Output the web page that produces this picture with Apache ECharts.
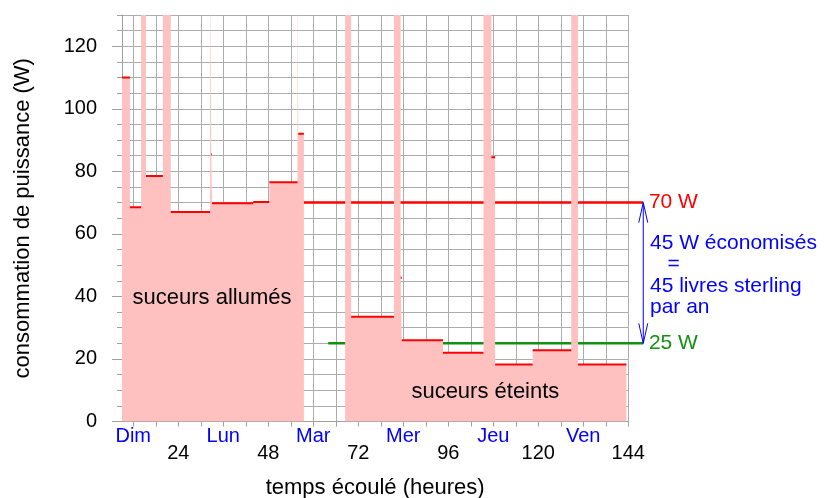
<!DOCTYPE html>
<html>
<head>
<meta charset="utf-8">
<script src="https://cdn.jsdelivr.net/npm/echarts@6/dist/echarts.min.js"></script>
<style>
  html, body { margin: 0; padding: 0; background: #fff; }
  #chart { width: 825px; height: 498px; }
</style>
</head>
<body>
<div id="chart"></div>
<script>
// paliers de consommation : début / fin (heures) et puissance (W)
// 150 = pic qui sort du graphique
const stepStart = [9, 11.1, 14.1, 15.4, 19.9, 22.0, 32.5, 32.8, 33.0, 44.0, 48.3, 55.8, 56.0,
                   68.5, 70.1, 81.5, 83.3, 83.6, 94.6, 105.4, 107.5, 108.5, 118.5, 128.8, 130.6]
const stepEnd   = [11.1, 14.1, 15.4, 19.9, 22.0, 32.5, 32.8, 33.0, 44.0, 48.3, 55.8, 56.0, 57.5,
                   70.1, 81.5, 83.3, 83.6, 94.6, 105.4, 107.5, 108.5, 118.5, 128.8, 130.6, 143.5]
const stepPower = [110, 68.5, 150, 78.5, 150, 67, 150, 85.5, 69.8, 70.2, 76.5, 150, 92,
                   150, 33.5, 150, 46, 26, 22, 150, 84.5, 18.2, 22.8, 150, 18.2]

// niveaux moyens avant / après : début, fin, puissance
const levelStart = [57.5, 64]
const levelEnd = [148, 148]
const levelPower = [70, 25]
const levelColor = ['#ff0000', '#119011']
const arrowData = [[148, 25, 70]]

// axe des x
const gridHours = [12, 18, 24, 30, 36, 42, 48, 54, 60, 66, 72, 78, 84, 90, 96, 102, 108, 114, 120, 126, 132, 138, 144]
const dayHours = [12, 36, 60, 84, 108, 132]
const dayNames = ['Dim', 'Lun', 'Mar', 'Mer', 'Jeu', 'Ven']
const hourLabels = [24, 48, 72, 96, 120, 144]
const yMajor = [0, 20, 40, 60, 80, 100, 120]

const FONT = '"Liberation Sans", Arial, Helvetica, sans-serif'
const Y_MAX = 130
const GRID_COLOR = '#acacac'

// construction des séries
const areaData = []
const topData = []
for (let i = 0; i < stepStart.length; i++) {
  if (i > 0 && stepStart[i] > stepEnd[i - 1]) {
    areaData.push([stepEnd[i - 1], '-'])
  }
  areaData.push([stepStart[i], stepPower[i]])
  areaData.push([stepEnd[i], stepPower[i]])
  if (stepPower[i] <= Y_MAX) {
    topData.push([stepStart[i], stepPower[i]])
    topData.push([stepEnd[i], stepPower[i]])
    topData.push([stepEnd[i], '-'])
  }
}

// textes d'annotation
const notes = [
  { text: '70 W', pos: [149.5, 70], color: '#ff0000', size: 21, align: 'left' },
  { text: '25 W', pos: [149.5, 25], color: '#119011', size: 21, align: 'left' },
  { text: '45 W économisés\n   =\n45 livres sterling\npar an', pos: [149.8, 46.8], color: '#0000ff', size: 21, align: 'left' },
  { text: 'suceurs allumés', pos: [33, 39.6], color: '#000', size: 22, align: 'center' },
  { text: 'suceurs éteints', pos: [105.9, 9.5], color: '#000', size: 22, align: 'center' }
]

const chart = echarts.init(document.getElementById('chart'))

const option = {
  animation: false,
  grid: { left: 122, right: 196.75, top: 15, bottom: 76.5, outerBoundsMode: 'none', containLabel: false },
  xAxis: [
    {
      type: 'value', position: 'bottom', min: 9, max: 144,
      name: 'temps écoulé (heures)', nameLocation: 'middle', nameGap: 55,
      nameTextStyle: { fontFamily: FONT, fontSize: 22, color: '#000' },
      axisLine: { show: true, lineStyle: { color: '#a0a0a0', width: 1 } },
      axisTick: { show: true, customValues: gridHours, length: 5, lineStyle: { color: '#a0a0a0' } },
      splitLine: { show: true, lineStyle: { color: GRID_COLOR, width: 1 } },
      axisLabel: {
        customValues: dayHours, margin: 5, color: '#0000ff', fontFamily: FONT, fontSize: 20,
        formatter: (v) => dayNames[dayHours.indexOf(v)]
      }
    },
    {
      type: 'value', position: 'bottom', min: 9, max: 144,
      axisLine: { show: false }, axisTick: { show: false }, splitLine: { show: false },
      axisLabel: { customValues: hourLabels, margin: 22, color: '#000', fontFamily: FONT, fontSize: 20 }
    }
  ],
  yAxis: [
    {
      type: 'value', position: 'left', min: 0, max: Y_MAX, interval: 5,
      name: 'consommation de puissance (W)', nameLocation: 'middle', nameGap: 88,
      nameTextStyle: { fontFamily: FONT, fontSize: 22, color: '#000' },
      axisLine: { show: true, lineStyle: { color: '#a0a0a0', width: 1 } },
      axisTick: { show: true, length: 5, lineStyle: { color: '#a0a0a0' } },
      splitLine: { show: true, lineStyle: { color: GRID_COLOR, width: 1 } },
      axisLabel: {
        margin: 25, color: '#000', fontFamily: FONT, fontSize: 20,
        formatter: (v) => (v % 20 === 0 && v <= 120 ? String(v) : '')
      }
    },
    {
      type: 'value', position: 'left', min: 0, max: Y_MAX,
      axisLine: { show: false }, splitLine: { show: false }, axisLabel: { show: false },
      axisTick: { show: true, customValues: yMajor, length: 10, lineStyle: { color: '#a0a0a0' } }
    }
  ],
  series: [
    {
      // niveaux 70 W / 25 W, qui dépassent à droite du cadre
      type: 'custom', z: 1, clip: false,
      data: levelPower.map((p, i) => [levelStart[i], levelEnd[i], p, i]),
      renderItem: (params, api) => {
        const a = api.coord([api.value(0), api.value(2)])
        const b = api.coord([api.value(1), api.value(2)])
        return {
          type: 'line', shape: { x1: a[0], y1: a[1], x2: b[0], y2: b[1] },
          style: { stroke: levelColor[api.value(3)], lineWidth: 2.5 }
        }
      }
    },
    {
      name: 'consommation', type: 'line', data: areaData, z: 2,
      symbol: 'none', connectNulls: false,
      lineStyle: { width: 0 },
      areaStyle: { color: '#ffc0c0', opacity: 1 }
    },
    {
      name: 'paliers', type: 'line', data: topData, z: 3,
      symbol: 'none', connectNulls: false,
      lineStyle: { color: '#ff0000', width: 2 }
    },
    {
      // flèche double entre les deux niveaux
      type: 'custom', data: arrowData, z: 4, clip: false,
      renderItem: (params, api) => {
        const top = api.coord([api.value(0), api.value(2)])
        const bot = api.coord([api.value(0), api.value(1)])
        const st = { stroke: '#0000ff', fill: null, lineWidth: 1 }
        return {
          type: 'group',
          children: [
            { type: 'line', shape: { x1: top[0], y1: top[1], x2: bot[0], y2: bot[1] }, style: st },
            { type: 'polyline', shape: { points: [[top[0] - 4.5, top[1] + 20], [top[0], top[1]], [top[0] + 4.5, top[1] + 20]] }, style: st },
            { type: 'polyline', shape: { points: [[bot[0] - 4.5, bot[1] - 20], [bot[0], bot[1]], [bot[0] + 4.5, bot[1] - 20]] }, style: st }
          ]
        }
      }
    },
    {
      // textes
      type: 'custom', data: notes.map((n, i) => [n.pos[0], n.pos[1], i]), z: 5, clip: false,
      renderItem: (params, api) => {
        const n = notes[api.value(2)]
        const p = api.coord([api.value(0), api.value(1)])
        return {
          type: 'text', x: p[0], y: p[1],
          style: {
            text: n.text, fill: n.color, font: n.size + 'px ' + FONT,
            align: n.align, verticalAlign: 'middle', lineHeight: 21.5
          }
        }
      }
    }
  ]
}

chart.setOption(option)
</script>
</body>
</html>
